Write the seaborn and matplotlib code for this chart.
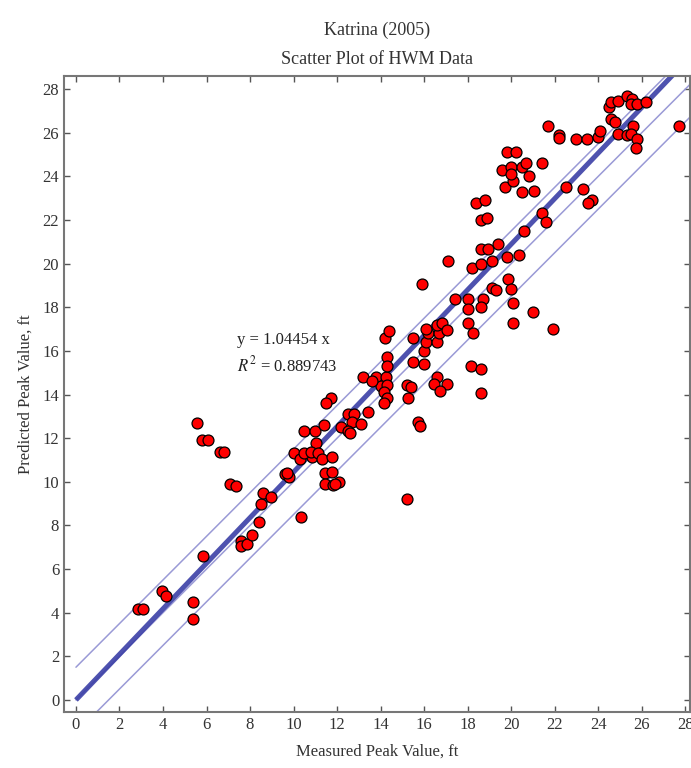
import numpy as np
import pandas as pd
import seaborn as sns
import matplotlib
matplotlib.use("Agg")
import matplotlib.pyplot as plt

# measured / predicted high-water marks (ft)
measured = [2.85, 3.1, 3.95, 4.15, 5.4, 5.4, 5.85, 5.55, 5.8, 6.05,
            6.6, 6.8, 7.1, 7.35, 7.6, 7.6, 7.85, 8.1, 8.4, 8.5,
            8.6, 8.95, 9.6, 9.8, 9.7, 10.35, 10.0, 10.3, 10.5, 11.0,
            11.05, 10.85, 10.5, 10.8, 11.1, 11.3, 11.75, 11.4, 11.45, 11.75,
            11.45, 11.8, 12.1, 11.9, 11.7, 11.5, 12.5, 12.8, 12.7, 13.1,
            13.4, 12.2, 12.5, 12.6, 13.2, 13.8, 14.25, 14.0, 14.3, 14.15,
            14.3, 14.15, 14.3, 14.3, 14.2, 14.4, 15.5, 15.2, 15.4, 15.25,
            15.7, 15.8, 15.2, 15.5, 16.0, 16.0, 16.1, 16.6, 16.2, 16.7,
            16.1, 16.6, 16.8, 17.05, 15.9, 16.6, 16.45, 17.05, 16.75, 17.1,
            17.4, 18.0, 18.7, 18.0, 18.6, 18.0, 18.25, 18.15, 18.6, 18.6,
            18.2, 18.6, 19.1, 19.1, 19.3, 19.85, 20.0, 20.1, 21.0, 20.1,
            21.9, 19.4, 18.6, 18.95, 19.8, 20.35, 20.6, 21.4, 21.6, 18.4,
            18.8, 18.6, 18.9, 19.7, 20.1, 20.5, 21.05, 20.8, 19.6, 20.0,
            20.5, 20.7, 20.0, 19.8, 20.2, 21.4, 22.5, 23.3, 23.7, 23.55,
            21.7, 22.2, 22.2, 23.0, 23.5, 24.0, 24.1, 24.6, 24.75, 24.5,
            24.6, 24.9, 25.3, 25.55, 25.5, 25.8, 26.2, 25.6, 24.9, 25.3,
            25.5, 25.8, 25.75, 27.7, 13.6]
predicted = [4.15, 4.15, 5.0, 4.75, 4.5, 3.7, 6.6, 12.7, 11.9, 11.9,
             11.35, 11.35, 9.9, 9.8, 7.3, 7.05, 7.15, 7.55, 8.15, 9.0,
             9.5, 9.3, 10.35, 10.2, 10.4, 8.4, 11.3, 11.05, 12.35, 12.35,
             11.8, 11.15, 11.3, 11.35, 11.3, 11.05, 11.15, 12.6, 10.4, 10.45,
             9.9, 9.85, 10.0, 9.9, 13.85, 13.6, 13.1, 13.1, 12.75, 12.65,
             13.2, 12.5, 12.35, 12.25, 14.8, 14.8, 14.8, 14.4, 14.45, 14.1,
             13.85, 13.6, 15.7, 15.3, 16.6, 16.9, 16.6, 14.45, 14.35, 13.85,
             12.75, 12.55, 9.2, 15.5, 15.4, 16.0, 16.4, 16.4, 16.8, 16.8,
             17.0, 17.2, 17.3, 16.95, 19.05, 14.8, 14.5, 14.5, 14.15, 20.1,
             18.4, 18.4, 18.4, 17.9, 18.0, 17.3, 16.8, 15.3, 15.15, 14.05,
             19.8, 20.0, 20.1, 18.9, 18.8, 19.3, 18.85, 18.2, 17.8, 17.3,
             17.0, 20.9, 20.65, 20.65, 20.3, 20.4, 21.5, 22.3, 21.9, 22.8,
             22.9, 22.0, 22.1, 23.5, 23.8, 23.3, 23.35, 24.0, 24.3, 24.45,
             24.45, 24.6, 24.1, 25.1, 25.1, 24.6, 23.5, 23.4, 22.9, 22.8,
             26.3, 25.9, 25.75, 25.7, 25.7, 25.8, 26.1, 26.65, 26.5, 27.2,
             27.4, 27.45, 27.7, 27.55, 27.3, 27.3, 27.4, 26.3, 25.95, 25.9,
             25.95, 25.7, 25.3, 26.3, 14.6]

slope = 1.04454
r_squared = 0.889743
band = 1.5  # +/- ft around the 1:1 line

df = pd.DataFrame({"measured": measured, "predicted": predicted})

sns.set_style("ticks")
plt.rcParams["font.family"] = ["Liberation Serif", "DejaVu Serif"]
plt.rcParams["mathtext.fontset"] = "stix"

fig = plt.figure(figsize=(6.91, 7.68), dpi=100)
ax = fig.add_axes([0.0926, 0.073, 0.9054, 0.828])

xs = np.array([0, 30])
ax.plot(xs, xs + band, color="#9a9ad6", lw=1.1, zorder=1)
ax.plot(xs, xs - band, color="#9a9ad6", lw=1.1, zorder=1)
ax.plot(xs, xs, color="#9a9ad6", lw=1.1, zorder=1)
ax.plot(xs, slope * xs, color="#3b3fa6", lw=3.6, alpha=0.9, zorder=2,
        solid_capstyle="butt")

sns.scatterplot(data=df, x="measured", y="predicted", ax=ax, color="#ff0000",
                edgecolor="black", linewidth=0.9, s=62, zorder=3, legend=False)

ax.text(7.4, 16.5, f"y = {slope} x", fontsize=12, color="#222222", va="center")
ax.text(7.4, 15.35, f"$R^2$ = {r_squared}", fontsize=12, color="#222222", va="center")

ax.set_xlim(-0.55, 28.2)
ax.set_ylim(-0.55, 28.6)
ax.set_xticks(np.arange(0, 29, 2))
ax.set_yticks(np.arange(0, 29, 2))
ax.tick_params(direction="in", top=True, right=True, length=4, width=1,
               color="#555555", labelcolor="#333333", labelsize=12)
for sp in ax.spines.values():
    sp.set_color("#777777")
    sp.set_linewidth(1.5)

ax.set_xlabel("Measured Peak Value, ft", fontsize=12, color="#333333", labelpad=8)
ax.set_ylabel("Predicted Peak Value, ft", fontsize=12, color="#333333", labelpad=6)
ax.set_title("Katrina (2005)\nScatter Plot of HWM Data", fontsize=13,
             color="#333333", linespacing=1.9, pad=9)

fig.savefig("out.png", dpi=100)
